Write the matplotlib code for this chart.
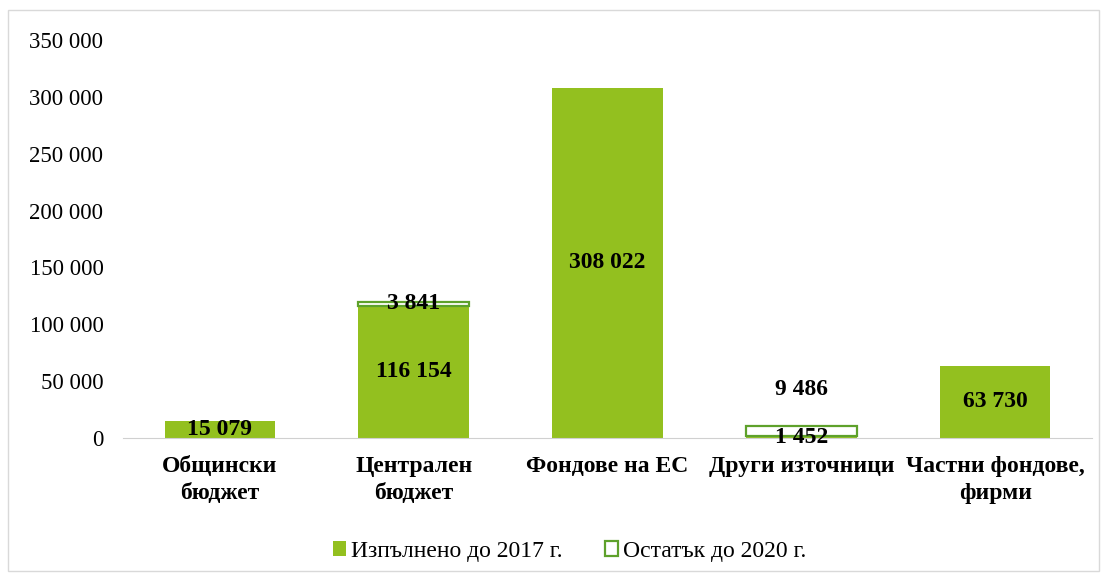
import matplotlib.pyplot as plt
from matplotlib.patches import Rectangle

categories = ['Общински\nбюджет', 'Централен\nбюджет', 'Фондове на ЕС',
              'Други източници', 'Частни фондове,\nфирми']
done_2017 = [15079, 116154, 308022, 1452, 63730]
left_2020 = [0, 3841, 0, 9486, 0]
y_ticks = [0, 50000, 100000, 150000, 200000, 250000, 300000, 350000]

GREEN = '#93c01f'
EDGE = '#5ea12b'


def fmt(v):
    return f'{v:,}'.replace(',', ' ')


plt.rcParams['font.family'] = ['Liberation Serif', 'DejaVu Serif']

fig = plt.figure(figsize=(11.07, 5.76), dpi=100)
ax = fig.add_axes([0.111, 0.2396, 0.8755, 0.691])

x = list(range(len(categories)))
width = 0.57
ax.bar(x, done_2017, width, color=GREEN, label='Изпълнено до 2017 г.')
rx = [i for i in x if left_2020[i] > 0]
ax.bar(rx, [left_2020[i] for i in rx], width,
       bottom=[done_2017[i] for i in rx], color='white', edgecolor=EDGE,
       linewidth=1.6, label='Остатък до 2020 г.')

for i in x:
    d = done_2017[i]
    ax.text(i, d / 2, fmt(d), ha='center', va='center', fontsize=17,
            fontweight='bold')
    r = left_2020[i]
    if r:
        # small segment on a tiny bar: label is lifted above
        off = 30 if d < r else 0
        ax.annotate(fmt(r), (i, d + r / 2), xytext=(0, off),
                    textcoords='offset points', ha='center', va='center',
                    fontsize=17, fontweight='bold')

ax.set_xlim(-0.5, len(categories) - 0.5)
ax.set_ylim(0, 350000)
ax.set_yticks(y_ticks)
ax.set_yticklabels([fmt(v) for v in y_ticks], fontsize=16.5)
ax.set_xticks(x)
ax.set_xticklabels(categories, fontsize=17, fontweight='bold',
                   linespacing=1.4)
ax.tick_params(axis='y', length=0, pad=14)
ax.tick_params(axis='x', length=0, pad=13)
for s in ['top', 'right', 'left']:
    ax.spines[s].set_visible(False)
ax.spines['bottom'].set_color('#d0d0d0')

ax.legend(loc='center', bbox_to_anchor=(0.461, -0.285), ncol=2,
          frameon=False, fontsize=17, handlelength=0.55, handleheight=0.55,
          handletextpad=0.2, columnspacing=1.8)

fig.patches.append(Rectangle((0.007, 0.008), 0.986, 0.975,
                             transform=fig.transFigure, fill=False,
                             edgecolor='#d9d9d9', linewidth=1))

fig.savefig('out.png', dpi=100)
